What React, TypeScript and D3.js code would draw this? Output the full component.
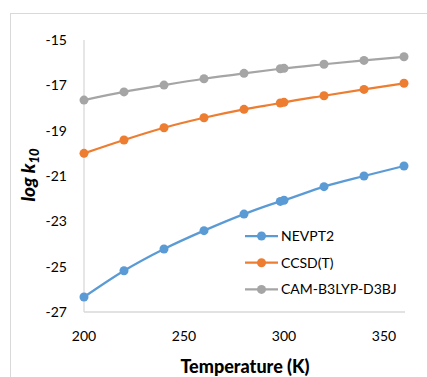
import React, { useEffect, useRef } from 'react';
import * as d3 from 'd3';

const temps = [200, 220, 240, 260, 280, 298.15, 300, 320, 340, 360];
const nevpt2 = [-26.34, -25.18, -24.22, -23.41, -22.68, -22.12, -22.07, -21.47, -21.0, -20.56];
const ccsdt = [-20.0, -19.41, -18.87, -18.43, -18.06, -17.78, -17.75, -17.46, -17.18, -16.91];
const cam = [-17.65, -17.29, -16.99, -16.71, -16.47, -16.27, -16.25, -16.07, -15.9, -15.74];
const seriesNames = ['NEVPT2', 'CCSD(T)', 'CAM-B3LYP-D3BJ'];
const colors = ['#5B9BD5', '#ED7D31', '#A5A5A5'];
const xTicks = [200, 250, 300, 350];
const yTicks = [-27, -25, -23, -21, -19, -17, -15];

const FONT = 'Lato, "Open Sans", sans-serif';

export default function App() {
  const ref = useRef<SVGSVGElement>(null);

  useEffect(() => {
    if (!ref.current) return;
    const svg = d3.select(ref.current);
    svg.selectAll('*').remove();

    const left = 84, right = 404, top = 40, bottom = 312;

    // chart area border
    svg.append('rect')
      .attr('x', 10.5).attr('y', 13.5)
      .attr('width', 430).attr('height', 400)
      .attr('fill', '#fff')
      .attr('stroke', '#d9d9d9');

    const x = d3.scaleLinear().domain([200, 360]).range([left, right]);
    const y = d3.scaleLinear().domain([-27, -15]).range([bottom, top]);

    // axis lines
    svg.append('line')
      .attr('x1', left).attr('x2', left)
      .attr('y1', top).attr('y2', bottom)
      .attr('stroke', '#d9d9d9').attr('stroke-width', 1.3);
    svg.append('line')
      .attr('x1', left).attr('x2', right + 1)
      .attr('y1', bottom).attr('y2', bottom)
      .attr('stroke', '#d9d9d9').attr('stroke-width', 1.3);

    svg.selectAll('.ytick')
      .data(yTicks)
      .enter()
      .append('text')
      .attr('x', 67)
      .attr('y', d => y(d) + 5)
      .attr('text-anchor', 'end')
      .style('font-family', FONT)
      .style('font-size', '14px')
      .style('fill', '#000')
      .text(d => d.toString());

    svg.selectAll('.xtick')
      .data(xTicks)
      .enter()
      .append('text')
      .attr('x', d => x(d))
      .attr('y', 341)
      .attr('text-anchor', 'middle')
      .style('font-family', FONT)
      .style('font-size', '14px')
      .style('fill', '#000')
      .text(d => d.toString());

    const all = [nevpt2, ccsdt, cam];
    const line = d3.line<[number, number]>()
      .x(d => x(d[0]))
      .y(d => y(d[1]))
      .curve(d3.curveMonotoneX);

    all.forEach((vals, i) => {
      const pts: [number, number][] = temps.map((t, j) => [t, vals[j]]);
      svg.append('path')
        .datum(pts)
        .attr('d', line)
        .attr('fill', 'none')
        .attr('stroke', colors[i])
        .attr('stroke-width', 2.25);
      svg.selectAll('.m' + i)
        .data(pts)
        .enter()
        .append('circle')
        .attr('cx', d => x(d[0]))
        .attr('cy', d => y(d[1]))
        .attr('r', 4.5)
        .attr('fill', colors[i]);
    });

    // legend
    const legend = svg.selectAll('.legend')
      .data(seriesNames)
      .enter()
      .append('g')
      .attr('transform', (d, i) => `translate(245,${236 + i * 26.7})`);
    legend.append('line')
      .attr('x1', 0).attr('x2', 33)
      .attr('stroke', (d, i) => colors[i])
      .attr('stroke-width', 2.25);
    legend.append('circle')
      .attr('cx', 16.5).attr('r', 4.5)
      .attr('fill', (d, i) => colors[i]);
    legend.append('text')
      .attr('x', 36).attr('y', 5)
      .style('font-family', FONT)
      .style('font-size', '14px')
      .style('fill', '#000')
      .text(d => d);

    // axis titles
    svg.append('text')
      .attr('x', 245).attr('y', 373)
      .attr('text-anchor', 'middle')
      .style('font-family', FONT)
      .style('font-size', '18px')
      .style('font-weight', 900)
      .text('Temperature (K)');

    const yt = svg.append('text')
      .attr('transform', 'translate(35,175) rotate(-90)')
      .attr('text-anchor', 'middle')
      .style('font-family', FONT)
      .style('font-size', '19px')
      .style('font-weight', 900)
      .style('font-style', 'italic');
    yt.append('tspan').text('log k');
    yt.append('tspan').attr('dy', 4).style('font-size', '13px').text('10');
  }, []);

  return (
    <svg ref={ref} width={427} height={377}
      style={{ position: 'absolute', left: 0, top: 0, background: '#fff' }} />
  );
}
